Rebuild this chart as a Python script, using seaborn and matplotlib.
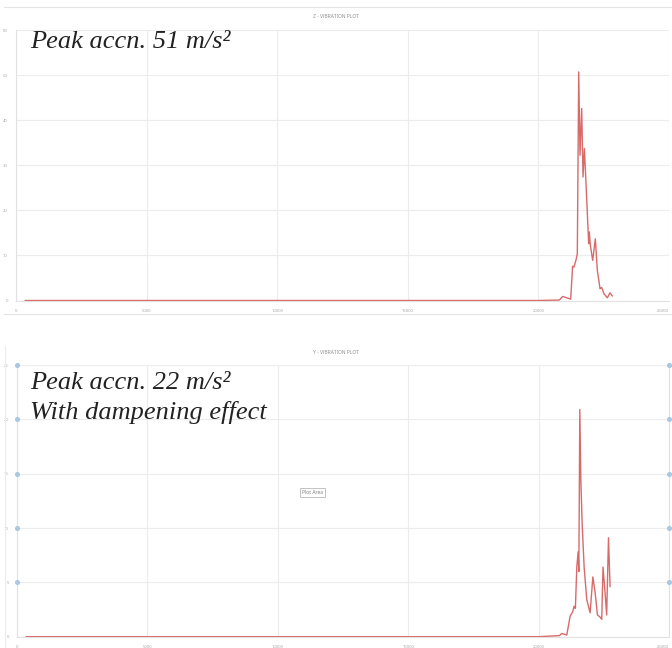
import matplotlib
matplotlib.use("Agg")
import matplotlib.pyplot as plt
import seaborn as sns
import pandas as pd

# Z axis vibration (time index vs acceleration m/s2)
z_time = [350, 20000, 20800, 20930, 21080, 21235, 21310, 21360, 21440, 21490,
          21543, 21593, 21657, 21708, 21760, 21823, 21925, 21950, 21985,
          22078, 22180, 22256, 22360, 22420, 22510, 22640, 22740, 22830]
z_accn = [0, 0, 0.1, 0.9, 0.6, 0.3, 7.6, 7.4, 9.0, 10.4,
          50.7, 32.2, 42.6, 27.4, 33.7, 25.9, 12.6, 15.2, 12.4,
          8.9, 13.7, 6.7, 2.6, 2.9, 1.5, 0.6, 1.7, 1.0]

# Y axis vibration
y_time = [350, 20000, 20800, 20890, 21080, 21210, 21310, 21360, 21410, 21465,
          21515, 21543, 21580, 21620, 21670, 21746, 21847, 21975, 22080,
          22170, 22256, 22360, 22420, 22470, 22550, 22610, 22680, 22740]
y_accn = [0, 0, 0.1, 0.3, 0.15, 1.9, 2.3, 2.8, 2.6, 6.4,
          7.8, 6.0, 20.9, 14.4, 10.4, 6.4, 3.4, 2.2, 5.5,
          4.0, 2.0, 1.8, 1.6, 6.4, 4.0, 2.0, 9.1, 4.6]

x_ticks = [0, 5000, 10000, 15000, 20000, 25000]
z_ticks = [0, 10, 20, 30, 40, 50, 60]
y_ticks = [0, 5, 10, 15, 20, 25]

line_col = "#d86a6a"
grid_col = "#ececec"
tick_col = "#a0a0a0"
handle_col = "#a9c8e3"
serif = ["Liberation Serif", "DejaVu Serif"]

sns.set_style("white")
plt.rcParams["font.family"] = ["Open Sans", "DejaVu Sans"]

fig = plt.figure(figsize=(6.72, 6.48), dpi=100)
W, H = 672, 648


def px_axes(x0, y0, x1, y1):
    return fig.add_axes([x0 / W, 1 - y1 / H, (x1 - x0) / W, (y1 - y0) / H])


def style(ax, yticks, title, title_y):
    ax.set_xlim(0, 25000)
    ax.set_ylim(yticks[0], yticks[-1])
    ax.set_xticks(x_ticks)
    ax.set_yticks(yticks)
    ax.set_xticklabels([str(t) for t in x_ticks])
    ax.set_yticklabels([str(t) for t in yticks])
    ax.tick_params(axis="both", labelsize=3, colors=tick_col, length=0, pad=6)
    ax.get_xticklabels()[-1].set_ha("right")
    ax.grid(True, color=grid_col, lw=0.8)
    for s in ["top", "right"]:
        ax.spines[s].set_visible(False)
    for s in ["left", "bottom"]:
        ax.spines[s].set_color("#e2e2e2")
        ax.spines[s].set_linewidth(0.8)
    ax.set_xlabel("")
    ax.set_ylabel("")
    fig.text(0.5, 1 - title_y / H, title, ha="center", va="center",
             fontsize=3.6, color="#8a8a8a")


# top chart
ax1 = px_axes(16, 30, 669, 300.5)
df_z = pd.DataFrame({"t": z_time, "a": z_accn})
sns.lineplot(data=df_z, x="t", y="a", ax=ax1, color=line_col, lw=1.0)
style(ax1, z_ticks, "Z - VIBRATION PLOT", 17)
ax1.text(0.022, 0.997, "Peak accn. 51 m/s²", transform=ax1.transAxes,
         ha="left", va="top", fontsize=19, style="italic",
         family=serif, color="#222222")

# bottom chart
ax2 = px_axes(17, 365, 669, 636.7)
df_y = pd.DataFrame({"t": y_time, "a": y_accn})
sns.lineplot(data=df_y, x="t", y="a", ax=ax2, color=line_col, lw=1.0)
style(ax2, y_ticks, "Y - VIBRATION PLOT", 352)
ax2.text(0.02, 0.975, "Peak accn. 22 m/s²\nWith dampening effect",
         transform=ax2.transAxes, ha="left", va="top", fontsize=19,
         style="italic", family=serif, color="#222222", linespacing=1.4)
ax2.text(0.453, 0.53, "Plot Area", transform=ax2.transAxes, ha="center",
         va="center", fontsize=3.6, color="#777777",
         bbox=dict(boxstyle="square,pad=0.4", fc="white", ec="#b8b8b8", lw=0.6))
# selection handles of the plot area
for v in y_ticks[1:]:
    ax2.scatter([0, 1], [v, v], s=7, color=handle_col,
                transform=ax2.get_yaxis_transform(), clip_on=False, zorder=5)
ax2.plot([1, 1], [0, 1], transform=ax2.transAxes, color="#e2e2e2", lw=0.8,
         clip_on=False)

# chart frame lines
fig.add_artist(plt.Line2D([4 / W, 1], [1 - 7 / H, 1 - 7 / H], color="#e4e4e4", lw=0.8))
fig.add_artist(plt.Line2D([4 / W, 1], [1 - 314 / H, 1 - 314 / H], color="#e4e4e4", lw=0.8))
fig.add_artist(plt.Line2D([5 / W, 5 / W], [0, 1 - 346 / H], color="#ececec", lw=0.8))

fig.savefig("out.png", dpi=100)
